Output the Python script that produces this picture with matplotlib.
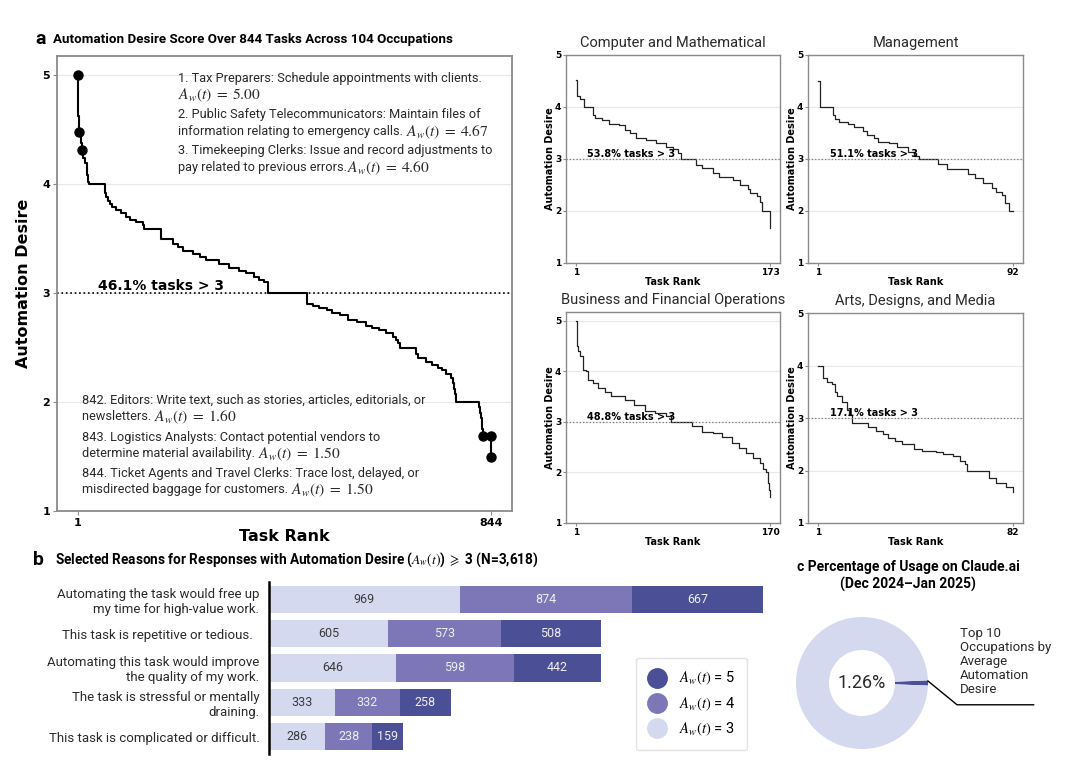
import matplotlib
matplotlib.use('Agg')
import matplotlib.pyplot as plt
from matplotlib.lines import Line2D

plt.rcParams['mathtext.fontset'] = 'stix'
plt.rcParams['font.family'] = ['DejaVu Sans']

# ---------------- data ----------------
main_rank = [1, 2, 4, 7, 9, 12, 15, 20, 23, 24, 57, 59, 63, 66, 71, 80, 90, 100, 107, 120,
             134, 137, 171, 195, 205, 215, 236, 250, 263, 290, 310, 330, 344, 360, 371, 380, 389, 468, 480, 493,
             510, 520, 535, 551, 570, 588, 600, 615, 630, 643, 650, 654, 657, 690, 695, 710, 724, 735, 744, 752,
             761, 765, 768, 771, 773, 818, 821, 823, 825, 826, 828, 844]
main_val = [5.00, 4.62, 4.48, 4.38, 4.31, 4.24, 4.19, 4.08, 4.02, 4.00, 3.92, 3.88, 3.84, 3.82, 3.79, 3.76, 3.73, 3.70, 3.67, 3.65,
            3.62, 3.59, 3.50, 3.45, 3.42, 3.39, 3.36, 3.33, 3.30, 3.27, 3.23, 3.20, 3.18, 3.15, 3.12, 3.10, 3.00, 2.90, 2.88, 2.86,
            2.84, 2.82, 2.80, 2.75, 2.73, 2.70, 2.68, 2.66, 2.63, 2.60, 2.57, 2.54, 2.50, 2.44, 2.40, 2.37, 2.34, 2.31, 2.29, 2.26,
            2.22, 2.17, 2.12, 2.07, 2.00, 1.95, 1.90, 1.85, 1.80, 1.75, 1.69, 1.50]
main_hl_rank = [1, 4, 9, 828, 843, 844]
main_hl_val = [5.00, 4.48, 4.31, 1.69, 1.69, 1.50]
main_n = 844
main_pct = "46.1% tasks > 3"

# (plain text, math part) per line
top_notes = [("1. Tax Preparers: Schedule appointments with clients.", ""),
             ("", r"$A_w(t)\;=\;5.00$"),
             ("2. Public Safety Telecommunicators: Maintain files of", ""),
             ("information relating to emergency calls. ", r"$A_w(t)\;=\;4.67$"),
             ("3. Timekeeping Clerks: Issue and record adjustments to", ""),
             ("pay related to previous errors.", r"$A_w(t)\;=\;4.60$")]
bottom_notes = [("842. Editors: Write text, such as stories, articles, editorials, or", ""),
                ("newsletters. ", r"$A_w(t)\;=\;1.60$"),
                ("843. Logistics Analysts: Contact potential vendors to", ""),
                ("determine material availability. ", r"$A_w(t)\;=\;1.50$"),
                ("844. Ticket Agents and Travel Clerks: Trace lost, delayed, or", ""),
                ("misdirected baggage for customers. ", r"$A_w(t)\;=\;1.50$")]

cm_rank = [1, 2, 5, 8, 16, 18, 24, 30, 39, 45, 49, 54, 63, 72, 81, 87, 91, 94, 107, 113,
           122, 128, 140, 146, 153, 155, 161, 164, 166, 171, 173]
cm_val = [4.51, 4.21, 4.16, 4.00, 3.84, 3.78, 3.75, 3.68, 3.65, 3.56, 3.50, 3.40, 3.36, 3.30, 3.24, 3.19, 3.11, 3.00, 2.88, 2.82,
          2.73, 2.66, 2.60, 2.50, 2.42, 2.34, 2.28, 2.18, 2.00, 2.00, 1.67]
mg_rank = [1, 2, 8, 9, 11, 15, 18, 22, 24, 27, 29, 34, 38, 43, 46, 48, 57, 61, 71, 74,
           78, 82, 84, 87, 88, 90, 92]
mg_val = [4.50, 4.00, 3.84, 3.76, 3.71, 3.68, 3.62, 3.53, 3.46, 3.40, 3.33, 3.30, 3.24, 3.14, 3.06, 3.00, 2.90, 2.81, 2.72, 2.63,
          2.53, 2.44, 2.37, 2.31, 2.15, 2.00, 2.00]
bf_rank = [1, 2, 3, 5, 7, 10, 12, 16, 20, 26, 32, 44, 52, 61, 70, 79, 84, 102, 111, 120,
           128, 137, 143, 149, 155, 161, 164, 166, 168, 169, 170]
bf_val = [5.00, 4.50, 4.40, 4.30, 4.03, 4.00, 3.82, 3.77, 3.68, 3.60, 3.51, 3.44, 3.34, 3.21, 3.18, 3.12, 3.00, 2.91, 2.81, 2.79,
          2.71, 2.58, 2.48, 2.39, 2.29, 2.19, 2.06, 2.00, 1.80, 1.65, 1.51]
ar_rank = [1, 3, 5, 7, 8, 9, 11, 13, 14, 15, 22, 25, 28, 30, 33, 36, 41, 44, 50, 53,
           57, 60, 62, 63, 72, 75, 79, 82]
ar_val = [4.00, 3.76, 3.68, 3.64, 3.50, 3.41, 3.31, 3.15, 3.05, 2.91, 2.83, 2.76, 2.69, 2.61, 2.57, 2.50, 2.41, 2.37, 2.35, 2.32,
          2.28, 2.19, 2.13, 2.00, 1.86, 1.76, 1.69, 1.60]
sub_titles = ["Computer and Mathematical", "Management", "Business and Financial Operations", "Arts, Designs, and Media"]
sub_pcts = ["53.8% tasks > 3", "51.1% tasks > 3", "48.8% tasks > 3", "17.1% tasks > 3"]

reasons = ["Automating the task would free up\nmy time for high-value work.",
           "This task is repetitive or tedious.  ",
           "Automating this task would improve\nthe quality of my work.",
           "The task is stressful or mentally\ndraining.",
           "This task is complicated or difficult."]
cnt_a3 = [969, 605, 646, 333, 286]
cnt_a4 = [874, 573, 598, 332, 238]
cnt_a5 = [667, 508, 442, 258, 159]
legend_labels = ["$A_w(t)$ = 5", "$A_w(t)$ = 4", "$A_w(t)$ = 3"]

usage_share = [1.26, 98.74]
usage_center = "1.26%"
usage_note = "Top 10\nOccupations by\nAverage\nAutomation\nDesire"

# ---------------- style ----------------
W, H = 1080, 762
C_LIGHT = '#d5d9f0'
C_MED = '#7d77b8'
C_DARK = '#4b4f96'
HUM = 'Roboto'
SPINE = '#8a8a8a'
TXT = '#2a2a2a'

fig = plt.figure(figsize=(10.8, 7.62), dpi=100)
renderer = fig.canvas.get_renderer()


def box(l, t, r, b):
    return [l / W, 1 - b / H, (r - l) / W, (b - t) / H]


def ftext(x, y, s, **kw):
    return fig.text(x / W, 1 - y / H, s, **kw)


def fit(t, target):
    w = t.get_window_extent(renderer=renderer).width
    t.set_fontsize(t.get_fontsize() * target / w)
    return t.get_fontsize()


def mixed(x, y, plain, math, size, math_scale=1.22):
    xx = x
    if plain:
        tp = ftext(x, y, plain, fontsize=size, family=HUM, va='center_baseline', color=TXT)
        xx = x + tp.get_window_extent(renderer=renderer).width
        if plain.endswith(' '):
            xx += 0
    if math:
        ftext(xx, y, math, fontsize=size * math_scale, va='center_baseline', color=TXT)


def style_axes(ax, tick_size, lw, pad):
    for s in ax.spines.values():
        s.set_color(SPINE)
        s.set_linewidth(lw)
    ax.tick_params(colors='black', labelsize=tick_size, length=3, width=0.8, pad=pad)
    ax.tick_params(axis='both', color=SPINE)
    for lab in ax.get_xticklabels() + ax.get_yticklabels():
        lab.set_fontweight('bold')
    ax.grid(axis='y', color='#e8e8e8', lw=0.8)
    ax.set_axisbelow(True)


# ---------------- panel a ----------------
ax = fig.add_axes(box(57, 56, 512, 511))
ax.plot(main_rank, main_val, drawstyle='steps-post', color='black', lw=1.5)
ax.plot(main_hl_rank, main_hl_val, 'o', color='black', ms=6.5)
ax.axhline(3, color='black', ls=':', lw=1.2)
ax.set_xticks([1, main_n])
ax.set_yticks([1, 2, 3, 4, 5])
ax.set_ylim(bottom=1)
style_axes(ax, 8, 1.3, 2)
ax.set_xlabel("Task Rank", fontsize=11.5, fontweight='bold', labelpad=1)
ax.set_ylabel("Automation Desire", fontsize=11.5, fontweight='bold', labelpad=8)
ax.text(0.09, 3.0, main_pct, transform=ax.get_yaxis_transform(), fontsize=10, fontweight='bold',
        va='bottom', ha='left')

ftext(35, 39, "a", fontsize=14, fontweight='bold', family=HUM, va='center')
t = ftext(53, 39, "Automation Desire Score Over 844 Tasks Across 104 Occupations",
          fontsize=10, fontweight='bold', family=HUM, va='center')
fit(t, 398)

note_ys_top = [77, 93, 113, 130, 149, 166]
note_ys_bot = [399, 415, 436, 452, 472, 488]
t0 = fig.text(0, 0, top_notes[0][0], fontsize=9, family=HUM)
ns = fit(t0, 307)
t0.remove()
for (p, m), y in zip(top_notes, note_ys_top):
    mixed(178, y, p, m, ns)
for (p, m), y in zip(bottom_notes, note_ys_bot):
    mixed(82, y, p, m, ns)

# ---------------- small panels ----------------
sub_data = [(cm_rank, cm_val), (mg_rank, mg_val), (bf_rank, bf_val), (ar_rank, ar_val)]
sub_boxes = [(566, 55, 780, 263), (808, 55, 1023, 263), (566, 312, 780, 523), (808, 313, 1023, 523)]
sub_top = [5, 5, None, 5]
for (rk, vl), bx, ttl, pct, top in zip(sub_data, sub_boxes, sub_titles, sub_pcts, sub_top):
    a = fig.add_axes(box(*bx))
    a.plot(rk, vl, drawstyle='steps-post', color='#222222', lw=0.9)
    a.axhline(3, color='#777777', ls=':', lw=0.9)
    a.set_xticks([1, rk[-1]])
    a.set_yticks([1, 2, 3, 4, 5])
    if top is None:
        a.set_ylim(bottom=1)
    else:
        a.set_ylim(1, top)
    style_axes(a, 6.5, 1.0, 1)
    a.tick_params(length=2.5)
    a.set_xlabel("Task Rank", fontsize=7, fontweight='bold', labelpad=0)
    a.set_ylabel("Automation Desire", fontsize=7, fontweight='bold', labelpad=0)
    a.set_title(ttl, fontsize=10.5, family=HUM, pad=6, color=TXT)
    a.text(0.1, 3.0, pct, transform=a.get_yaxis_transform(), fontsize=7, fontweight='bold',
           va='bottom', ha='left')

# ---------------- panel b ----------------
axb = fig.add_axes(box(269, 582, 763, 754))
ypos = list(range(len(reasons)))
left4 = [a3 for a3 in cnt_a3]
left5 = [a3 + a4 for a3, a4 in zip(cnt_a3, cnt_a4)]
b3 = axb.barh(ypos, cnt_a3, height=0.79, color=C_LIGHT)
b4 = axb.barh(ypos, cnt_a4, left=left4, height=0.79, color=C_MED)
b5 = axb.barh(ypos, cnt_a5, left=left5, height=0.79, color=C_DARK)
axb.set_ylim(len(reasons) - 0.5, -0.5)
axb.set_xlim(0, max(a + b + c for a, b, c in zip(cnt_a3, cnt_a4, cnt_a5)))
for bars, col in [(b3, '#3a3a3a'), (b4, '#eeeeee'), (b5, '#eeeeee')]:
    axb.bar_label(bars, label_type='center', color=col, fontsize=9, family=HUM)
axb.set_yticks(ypos)
axb.set_yticklabels(reasons, family=HUM, fontsize=9.5, color=TXT, multialignment='right')
axb.tick_params(axis='y', length=0, pad=7)
axb.set_xticks([])
for s in ['top', 'right', 'bottom']:
    axb.spines[s].set_visible(False)
axb.spines['left'].set_linewidth(1.8)
axb.spines['left'].set_color('black')

ftext(33, 560, "b", fontsize=14, fontweight='bold', family=HUM, va='center')
tb = ftext(55, 560, r"Selected Reasons for Responses with Automation Desire ($A_w(t)$) $\geqslant$ 3 (N=3,618)",
           fontsize=10, fontweight='bold', family=HUM, va='center')
fit(tb, 485)

handles = [Line2D([], [], ls='none', marker='o', ms=14, color=c) for c in (C_DARK, C_MED, C_LIGHT)]
leg = fig.legend(handles, legend_labels, loc='center', bbox_to_anchor=(691.5 / W, 1 - 704 / H),
                 frameon=True, fancybox=True, prop={'family': HUM, 'size': 10.5},
                 labelspacing=0.55, borderpad=0.85, handletextpad=0.9, handlelength=1.2)
leg.get_frame().set_edgecolor('#dddddd')
leg.get_frame().set_linewidth(1.0)

# ---------------- panel c ----------------
cx, cy, R = 862, 683, 66
axc = fig.add_axes(box(cx - R, cy - R, cx + R, cy + R))
axc.pie(usage_share, colors=[C_DARK, C_LIGHT], startangle=-usage_share[0] * 3.6 / 2,
        counterclock=True, wedgeprops=dict(width=0.5, linewidth=0))
axc.set_xlim(-1, 1)
axc.set_ylim(-1, 1)
axc.set_aspect('equal')
axc.text(0, 0, usage_center, ha='center', va='center', fontsize=13, family=HUM, color=TXT)
axc.plot([1.0, 1.44, 2.6], [0.03, -0.33, -0.33], color='black', lw=1.0, clip_on=False)
ftext(960, 627, usage_note, fontsize=9.5, family=HUM, va='top', ha='left', color=TXT, linespacing=1.1)
ftext(908, 576, "c Percentage of Usage on Claude.ai\n(Dec 2024\u2013Jan 2025)", fontsize=10,
      fontweight='bold', family=HUM, va='center', ha='center', multialignment='center', linespacing=1.3)

fig.savefig('out.png', dpi=100)
